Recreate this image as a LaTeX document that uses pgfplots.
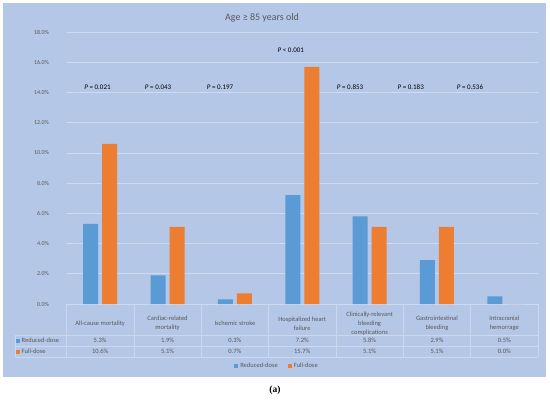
\documentclass[border=0pt]{standalone}
\usepackage{pgfplots}
\pgfplotsset{compat=1.18}
\usepackage{pgfplotstable}
\usepackage{fontspec}
\setmainfont{Carlito}
\newfontfamily\serifb{Liberation Serif}
\definecolor{bg}{RGB}{180,199,231}
\definecolor{gridc}{RGB}{205,218,240}
\definecolor{tline}{RGB}{202,215,238}
\definecolor{txt}{RGB}{89,89,89}
\definecolor{cblue}{RGB}{91,155,213}
\definecolor{corange}{RGB}{237,125,49}
\pgfplotsset{sqlegend/.style={legend image code/.code={\fill[##1] (0bp,-2bp) rectangle (4bp,2bp);}}}

\pgfplotstableread{
x red full
0 5.3 10.6
1 1.9 5.1
2 0.3 0.7
3 7.2 15.7
4 5.8 5.1
5 2.9 5.1
6 0.5 0.0
}\datatab

\begin{document}
\begin{tikzpicture}[x=1bp,y=1bp]
\path[fill=white] (0,0) rectangle (550,399);
\fill[bg] (3,22) rectangle (546,396);
\node[text=txt, font=\fontsize{10bp}{12bp}\selectfont] at (262,381) {Age ≥ 85 years old};
% table lines
\foreach \yy in {64,53,42} \draw[tline, line width=0.6bp] (15,\yy) -- (538,\yy);
\draw[tline, line width=0.6bp] (15,64) -- (15,42);
\foreach \k in {0,...,7} \draw[tline, line width=0.6bp] ({66.5+67.357*\k},95) -- ({66.5+67.357*\k},42);
% row labels
\fill[cblue] (16,56.5) rectangle (20,60.5);
\node[anchor=west, text=txt, font=\fontsize{6.5bp}{8bp}\selectfont, inner sep=0] at (21.5,58.5) {Reduced-dose};
\fill[corange] (16,45.5) rectangle (20,49.5);
\node[anchor=west, text=txt, font=\fontsize{6.5bp}{8bp}\selectfont, inner sep=0] at (21.5,47.5) {Full-dose};
% row values
\foreach \v [count=\i from 0] in {5.3\%,1.9\%,0.3\%,7.2\%,5.8\%,2.9\%,0.5\%}
  \node[text=txt, font=\fontsize{6.5bp}{8bp}\selectfont, inner sep=0] at ({100.18+67.357*\i},58.5) {\v};
\foreach \v [count=\i from 0] in {10.6\%,5.1\%,0.7\%,15.7\%,5.1\%,5.1\%,0.0\%}
  \node[text=txt, font=\fontsize{6.5bp}{8bp}\selectfont, inner sep=0] at ({100.18+67.357*\i},47.5) {\v};
\node[font=\serifb\bfseries\fontsize{9.5bp}{11bp}\selectfont] at (275,9) {(a)};

\begin{axis}[
  at={(66.5bp,95bp)}, anchor=south west, scale only axis,
  width=471.5bp, height=272bp,
  xmin=-0.5, xmax=6.5, ymin=0, ymax=18,
  ybar=4bp, bar width=15bp,
  axis line style={draw=none}, tick style={draw=none},
  ytick={0,2,...,18},
  ymajorgrids, grid style={gridc, line width=0.7bp},
  /pgf/number format/assume math mode=true,
  yticklabel={\pgfmathprintnumber[fixed,fixed zerofill,precision=1]{\tick}\%},
  yticklabel style={text=txt, font=\fontsize{6bp}{7bp}\selectfont, xshift=-14bp},
  xtick={0,...,6},
  xticklabels={All-cause mortality, {Cardiac-related\\mortality}, Ischemic stroke, {Hospitalized heart\\failure}, {Clinically-relevant\\bleeding\\complications}, {Gastrointestinal\\bleeding}, {Intracranial\\hemorrage}},
  xticklabel style={text=txt, font=\fontsize{6.5bp}{9bp}\selectfont, align=center, anchor=center, yshift=-15.5bp},
  legend style={at={(0.4465,-0.228)}, anchor=center, draw=none, fill=none, legend columns=2,
    font=\fontsize{6.5bp}{8bp}\selectfont, text=txt,
    /tikz/every even column/.append style={column sep=8bp}},
  clip=false,
]
\addplot[fill=cblue, draw=none, sqlegend] table[x=x,y=red]{\datatab};
\addplot[fill=corange, draw=none, sqlegend] table[x=x,y=full]{\datatab};
\legend{Reduced-dose, Full-dose}
\node[font=\fontsize{7bp}{8bp}\selectfont] at (axis cs:-0.04,14.36) {\textit{P} = 0.021};
\node[font=\fontsize{7bp}{8bp}\selectfont] at (axis cs:0.86,14.36) {\textit{P} = 0.043};
\node[font=\fontsize{7bp}{8bp}\selectfont] at (axis cs:1.78,14.36) {\textit{P} = 0.197};
\node[font=\fontsize{7bp}{8bp}\selectfont] at (axis cs:2.83,16.8) {\textit{P} < 0.001};
\node[font=\fontsize{7bp}{8bp}\selectfont] at (axis cs:3.71,14.36) {\textit{P} = 0.853};
\node[font=\fontsize{7bp}{8bp}\selectfont] at (axis cs:4.61,14.36) {\textit{P} = 0.183};
\node[font=\fontsize{7bp}{8bp}\selectfont] at (axis cs:5.49,14.36) {\textit{P} = 0.536};
\end{axis}
\end{tikzpicture}
\end{document}
